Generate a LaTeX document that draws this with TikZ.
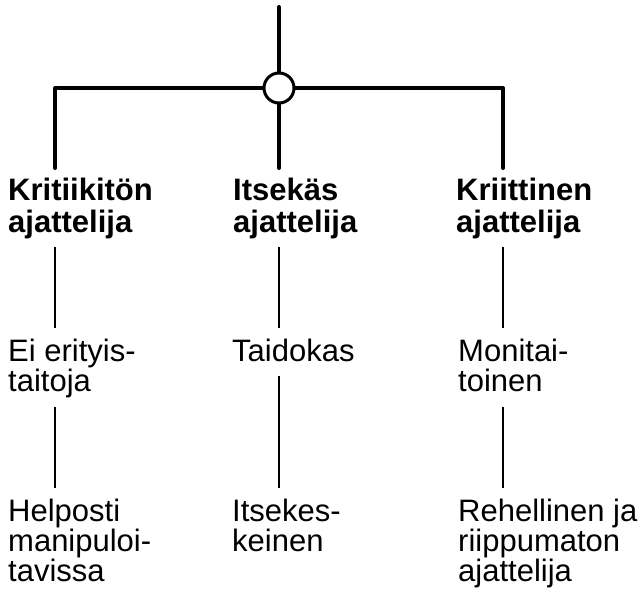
\documentclass[tikz,border=0pt]{standalone}
\usepackage{fontspec}
\setmainfont{Liberation Sans}
\begin{document}
\begin{tikzpicture}[x=1pt, y=-1pt,
    thickline/.style={line width=4pt, line join=round, line cap=round},
    thinline/.style={line width=1.7pt},
    head/.style={anchor=base west, inner sep=0pt, align=left, font=\fontsize{31}{31.5}\selectfont\bfseries},
    leaf/.style={anchor=base west, inner sep=0pt, align=left, font=\fontsize{31}{30}\selectfont}]
                \useasboundingbox (0, 0) rectangle (642, 590);
                \path (279, 7) coordinate (top);
                \path (55, 168) coordinate (kend);
                \path (279, 168) coordinate (iend);
                \path (503, 168) coordinate (rend);
                \node[circle, draw, line width=3pt, minimum size=30pt, inner sep=0pt] (hub) at (279, 88) {};
                \draw[thickline] (top) -- (hub);
                \draw[thickline] (hub) -| (kend);
                \draw[thickline] (hub) -| (rend);
                \draw[thickline] (hub) -- (iend);
                % base anchor sits on the last line
                \node[head] (khead) at (8, 232) {Kritiikitön\\ajattelija};
                \node[head] (ihead) at (233, 232) {Itsekäs\\ajattelija};
                \node[head] (rhead) at (456, 232) {Kriittinen\\ajattelija};
                \node[leaf] (kskill) at (8, 391) {Ei erityis-\\taitoja};
                \node[leaf] (iskill) at (232, 361) {Taidokas};
                \node[leaf] (rskill) at (458, 391) {Monitai-\\toinen};
                \node[leaf] (kmind) at (8, 581) {Helposti\\manipuloi-\\tavissa};
                \node[leaf] (imind) at (232, 551) {Itsekes-\\keinen};
                \node[leaf] (rmind) at (458, 581) {Rehellinen ja\\riippumaton\\ajattelija};
                \path (55, 247) coordinate (k1a);
                \path (55, 328) coordinate (k1b);
                \path (279, 247) coordinate (i1a);
                \path (279, 328) coordinate (i1b);
                \path (503, 247) coordinate (r1a);
                \path (503, 328) coordinate (r1b);
                \path (55, 407) coordinate (k2a);
                \path (55, 488) coordinate (k2b);
                \path (279, 376) coordinate (i2a);
                \path (279, 488) coordinate (i2b);
                \path (503, 407) coordinate (r2a);
                \path (503, 488) coordinate (r2b);
                \draw[thinline] (k1a) -- (k1b);
                \draw[thinline] (i1a) -- (i1b);
                \draw[thinline] (r1a) -- (r1b);
                \draw[thinline] (k2a) -- (k2b);
                \draw[thinline] (i2a) -- (i2b);
                \draw[thinline] (r2a) -- (r2b);
            \end{tikzpicture}
\end{document}
